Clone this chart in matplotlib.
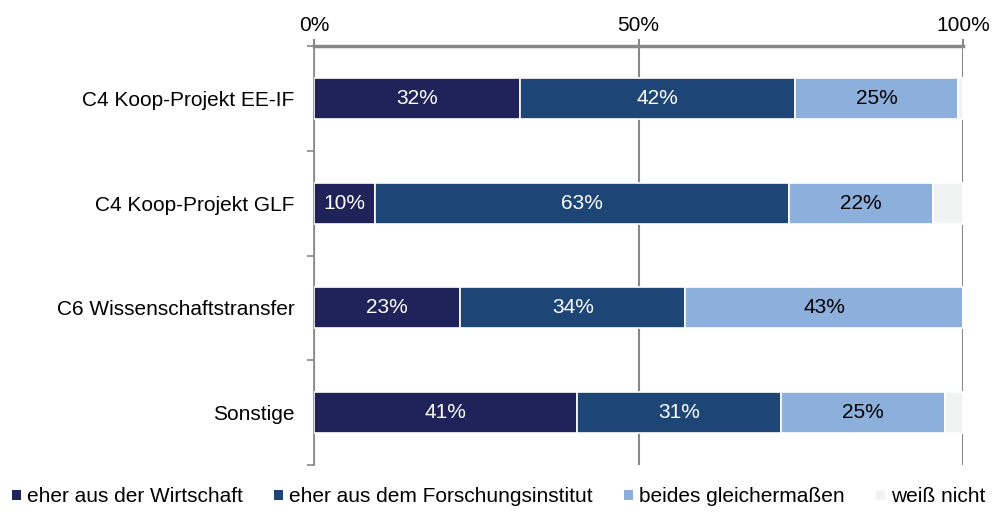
import numpy as np
import matplotlib.pyplot as plt
from matplotlib.patches import Patch

plt.rcParams['font.family'] = ['Liberation Sans', 'DejaVu Sans']

# Daten
kategorien = ['C4 Koop-Projekt EE-IF', 'C4 Koop-Projekt GLF',
              'C6 Wissenschaftstransfer', 'Sonstige']
wirtschaft = [31.7, 9.4, 22.5, 40.5]
forschung = [42.4, 63.8, 34.7, 31.5]
beides = [25.1, 22.2, 42.8, 25.2]
weiss_nicht = [0.8, 4.6, 0.0, 2.8]
serien_namen = ['eher aus der Wirtschaft', 'eher aus dem Forschungsinstitut',
                'beides gleichermaßen', 'weiß nicht']
labels = [['32%', '10%', '23%', '41%'],
          ['42%', '63%', '34%', '31%'],
          ['25%', '22%', '43%', '25%'],
          ['', '', '', '']]

farben = ['#20235A', '#1D4676', '#8DAFDB', '#F1F3F3']
textfarben = ['white', 'white', 'black', 'black']
fs = 15

fig = plt.figure(figsize=(9.95, 5.15), dpi=100)
ax = fig.add_axes([0.3156, 0.097, 0.6524, 0.8137])

y = np.arange(len(kategorien))
links = np.zeros(len(kategorien))
for werte, farbe, tf, lab in zip([wirtschaft, forschung, beides, weiss_nicht],
                                 farben, textfarben, labels):
    bars = ax.barh(y, werte, left=links, height=0.39, color=farbe,
                   edgecolor='white', linewidth=1.2, zorder=3)
    for b, t in zip(bars, lab):
        if t:
            ax.text(b.get_x() + b.get_width() / 2, b.get_y() + b.get_height() / 2,
                    t, ha='center', va='center', color=tf, fontsize=fs, zorder=4)
    links += np.array(werte)

ax.set_xlim(0, 100)
ax.set_ylim(len(kategorien) - 0.5, -0.5)
ax.xaxis.tick_top()
ax.set_xticks([0, 50, 100])
ax.set_xticklabels(['0%', '50%', '100%'], fontsize=fs)
ax.tick_params(axis='x', direction='out', length=5, width=1.5, color='#888888', pad=3)

ax.set_yticks(y)
ax.set_yticklabels(kategorien, fontsize=fs)
ax.tick_params(axis='y', length=0, pad=14)
ax.set_yticks(np.arange(-0.5, len(kategorien)), minor=True)
ax.tick_params(axis='y', which='minor', length=5, width=1.2, color='#888888')

ax.grid(axis='x', color='#888888', linewidth=1.5, zorder=0)
for s in ['right', 'bottom']:
    ax.spines[s].set_visible(False)
ax.spines['top'].set_color('#888888')
ax.spines['top'].set_linewidth(2.5)
ax.spines['left'].set_color('#888888')
ax.spines['left'].set_linewidth(1.2)

handles = [Patch(facecolor=f, edgecolor='none') for f in farben]
fig.legend(handles, serien_namen, loc='center left', bbox_to_anchor=(0.012, 0.035),
           ncol=4, frameon=False, fontsize=fs, handlelength=0.42,
           handleheight=0.42, handletextpad=0.3, columnspacing=1.5,
           borderpad=0, borderaxespad=0)

fig.savefig('out.png', dpi=100)
